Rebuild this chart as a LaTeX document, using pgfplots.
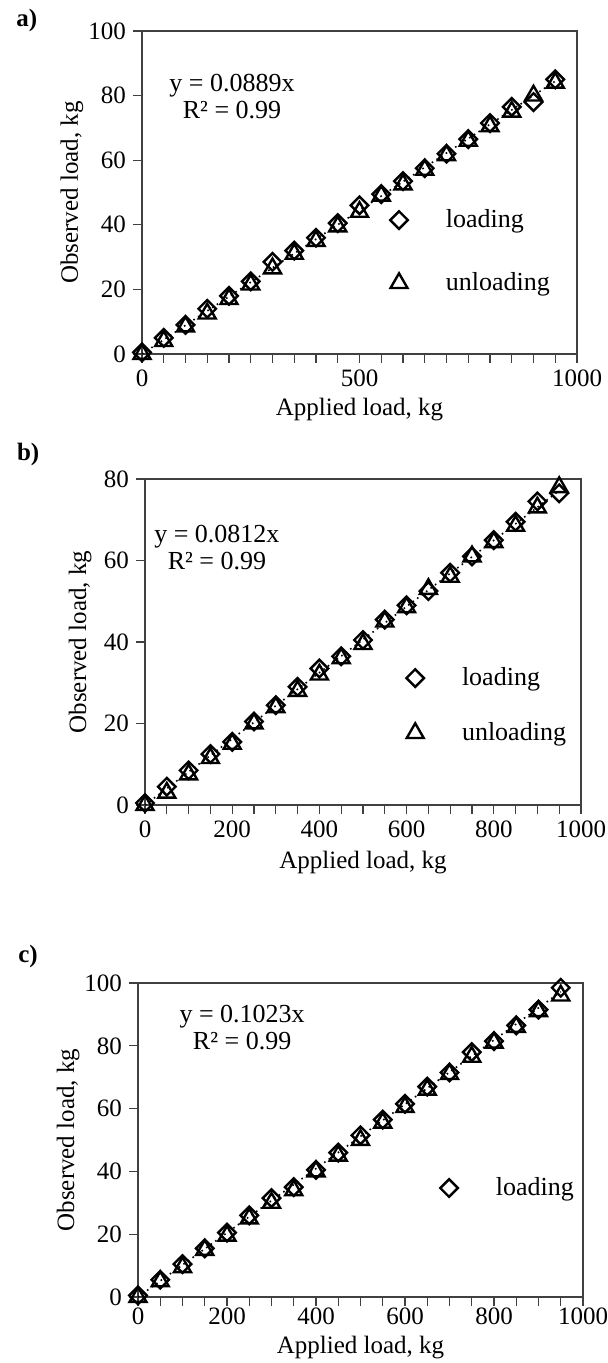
\documentclass[border=0pt]{standalone}
\usepackage{pgfplots}
\pgfplotsset{compat=1.18}
\usepackage{fontspec}
\setmainfont{Liberation Serif}

\newcommand{\fs}{\fontsize{12.5}{14.5}\selectfont}
\newcommand{\fe}{\fontsize{13}{13.5}\selectfont}

\pgfplotsset{
  loadax/.style={
    scale only axis,
    xmin=0, xmax=1000, ymin=0,
    axis line style={black!75, line width=0.6pt},
    tick align=outside,
    tick style={black!75, line width=0.6pt},
    major tick length=4.5pt, minor tick length=4.5pt,
    xtick pos=bottom, ytick pos=left,
    /pgf/number format/assume math mode=true,
    /pgf/number format/1000 sep={},
    ticklabel style={font=\fs},
    label style={font=\fs},
    xlabel={Applied load, kg},
    ylabel={Observed load, kg},
    legend cell align=left,
    legend style={draw=none, fill=none, font=\fe, anchor=west,
      /tikz/every odd column/.append style={column sep=17pt}},
    clip=false,
  },
  ld/.style={only marks, mark=square, mark size=3.1pt,
    mark options={rotate=45, solid, line width=1.2pt}, black},
  ul/.style={only marks, mark=triangle, mark size=4.9pt,
    mark options={solid, line width=1.2pt}, black},
  tr/.style={black, dotted, line width=0.8pt, no marks, forget plot},
}

\begin{document}
\begin{tikzpicture}
\useasboundingbox (0,0) rectangle (304pt,-681.5pt);

% a)
\begin{axis}[loadax,
  at={(71pt,-177pt)}, anchor=south west,
  width=217.5pt, height=161.5pt,
  ymax=100, ytick={0,20,...,100},
  xtick={0,500,1000}, minor x tick num=9,
  ylabel style={at={(axis description cs:-0.161,0.5)}, anchor=center},
  xlabel style={at={(axis description cs:0.5,-0.172)}, anchor=center},
  legend style={at={(rel axis cs:0.556,0.317)}, row sep=17pt},
]
\addplot[ld] coordinates {
 (0,0.5) (50,5) (100,9) (150,14) (200,18) (250,22.5) (300,28.5) (350,32)
 (400,36) (450,40.5) (500,46) (550,49.5) (600,53.5) (650,57.5) (700,62)
 (750,66.5) (800,71.5) (850,76.5) (900,78) (950,85)};
\addplot[ul] coordinates {
 (0,0) (50,4) (100,8.5) (150,12.5) (200,17) (250,21.5) (300,26.5) (350,31)
 (400,35) (450,39.5) (500,44) (550,49) (600,52.5) (650,57) (700,61.5)
 (750,66) (800,70.5) (850,75) (900,80) (950,84)};
\addplot[tr] coordinates {(0,0) (950,84.46)};
\legend{loading, unloading}
\node[font=\fe, align=center] at (axis cs:207,79.8) {y = 0.0889x\\R² = 0.99};
\node[font=\fs\bfseries] at (rel axis cs:-0.265,1.034) {a)};
\end{axis}

% b)
\begin{axis}[loadax,
  at={(72.5pt,-402.5pt)}, anchor=south west,
  width=218pt, height=163pt,
  ymax=80, ytick={0,20,...,80},
  xtick={0,200,...,1000}, minor x tick num=3,
  ylabel style={at={(axis description cs:-0.149,0.5)}, anchor=center},
  xlabel style={at={(axis description cs:0.5,-0.177)}, anchor=center},
  legend style={at={(rel axis cs:0.585,0.305)}, row sep=13pt},
]
\addplot[ld] coordinates {
 (0,0.5) (50,4.5) (100,8.5) (150,12.5) (200,15.5) (250,20.5) (300,24.5) (350,29)
 (400,33.5) (450,36.5) (500,40.5) (550,45.5) (600,49) (650,52.5) (700,57)
 (750,61) (800,65) (850,69.5) (900,74.5) (950,76.5)};
\addplot[ul] coordinates {
 (0,0) (50,3) (100,7.5) (150,11.5) (200,15) (250,20) (300,24) (350,28)
 (400,32) (450,36) (500,39.5) (550,45) (600,48.5) (650,53) (700,56)
 (750,61) (800,64.5) (850,68.5) (900,73) (950,78)};
\addplot[tr] coordinates {(0,0) (950,77.14)};
\legend{loading, unloading}
\node[font=\fe, align=center] at (axis cs:165,63.3) {y = 0.0812x\\R² = 0.99};
\node[font=\fs\bfseries] at (rel axis cs:-0.268,1.074) {b)};
\end{axis}

% c)
\begin{axis}[loadax,
  at={(69pt,-648.5pt)}, anchor=south west,
  width=222.5pt, height=157pt,
  ymax=100, ytick={0,20,...,100},
  xtick={0,200,...,1000}, minor x tick num=3,
  xticklabel style={yshift=2.5pt},
  ylabel style={at={(axis description cs:-0.157,0.5)}, anchor=center},
  xlabel style={at={(axis description cs:0.5,-0.16)}, anchor=center},
  legend style={at={(rel axis cs:0.665,0.347)}},
]
\addplot[ld] coordinates {
 (0,0.5) (50,5.5) (100,10.5) (150,15.5) (200,20.5) (250,26) (300,31.5) (350,35)
 (400,40.5) (450,46) (500,51.5) (550,56.5) (600,61.5) (650,67) (700,71.5)
 (750,78) (800,81.5) (850,86.5) (900,91.5) (950,98.5)};
\addplot[ul, forget plot] coordinates {
 (0,0) (50,5) (100,9.5) (150,15) (200,19.5) (250,25) (300,30) (350,34)
 (400,40) (450,45) (500,50) (550,55.5) (600,60.5) (650,66) (700,71)
 (750,76.5) (800,81) (850,86) (900,91) (950,96)};
\addplot[tr] coordinates {(0,0) (950,97.19)};
\legend{loading}
\node[font=\fe, align=center] at (axis cs:234,85.8) {y = 0.1023x\\R² = 0.99};
\node[font=\fs\bfseries] at (rel axis cs:-0.247,1.083) {c)};
\end{axis}
\end{tikzpicture}
\end{document}
